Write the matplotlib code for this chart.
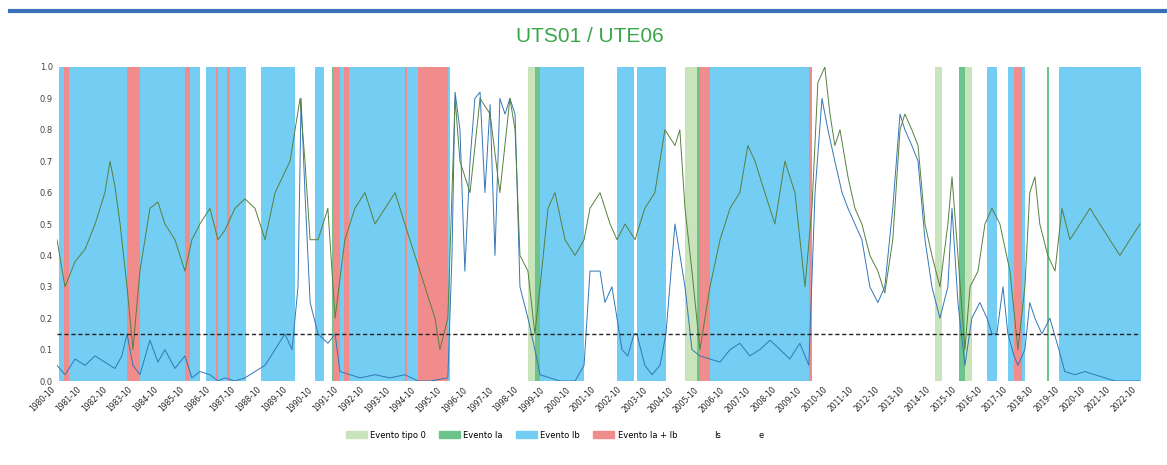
import numpy as np
import matplotlib.pyplot as plt
from matplotlib.patches import Patch
from matplotlib.lines import Line2D

# event spans (decimal years)
tipo0 = [(1999.04, 1999.31), (2005.14, 2005.60), (2014.85, 2015.12), (2016.01, 2016.28)]
tipoIa = [(1991.43, 1991.47), (1999.31, 1999.51), (2005.60, 2005.72), (2015.78, 2016.01), (2019.20, 2019.27)]
tipoIb = [(1980.83, 1986.30), (1986.54, 1988.09), (1988.67, 1989.99), (1990.77, 1991.12),
          (1991.47, 1996.01), (1999.51, 2001.22), (2002.50, 2003.16), (2003.27, 2004.40),
          (2005.72, 2010.07), (2016.87, 2017.25), (2017.68, 2018.34), (2019.66, 2022.85)]
tipoIaIb = [(1981.02, 1981.22), (1983.47, 1983.97), (1985.72, 1985.92), (1986.92, 1987.00),
            (1987.35, 1987.47), (1991.47, 1991.74), (1991.90, 1992.09), (1994.26, 1994.34),
            (1994.77, 1995.93), (2005.72, 2006.11), (2009.95, 2010.07), (2017.92, 2018.23)]

# series "Is" (green)
t_is = [1980.75, 1981.06, 1981.45, 1981.84, 1982.23, 1982.61, 1982.81, 1983.00, 1983.20, 1983.47,
        1983.70, 1983.97, 1984.36, 1984.67, 1984.94, 1985.33, 1985.72, 1985.99, 1986.30, 1986.69,
        1987.00, 1987.27, 1987.66, 1988.05, 1988.44, 1988.83, 1989.22, 1989.80, 1990.19, 1990.38,
        1990.58, 1990.89, 1991.27, 1991.55, 1991.93, 1992.32, 1992.71, 1993.10, 1993.49, 1993.88,
        1994.26, 1994.65, 1995.04, 1995.43, 1995.62, 1995.93, 1996.21, 1996.40, 1996.79, 1997.18,
        1997.57, 1997.95, 1998.34, 1998.54, 1998.73, 1999.04, 1999.31, 1999.51, 1999.82, 2000.09,
        2000.48, 2000.87, 2001.22, 2001.45, 2001.84, 2002.23, 2002.50, 2002.81, 2003.20, 2003.58,
        2003.97, 2004.36, 2004.75, 2004.94, 2005.14, 2005.41, 2005.72, 2006.11, 2006.50, 2006.89,
        2007.27, 2007.58, 2007.86, 2008.24, 2008.63, 2009.02, 2009.41, 2009.80, 2010.07, 2010.30,
        2010.57, 2010.77, 2010.96, 2011.16, 2011.47, 2011.74, 2012.01, 2012.32, 2012.63, 2012.90,
        2013.21, 2013.49, 2013.68, 2013.95, 2014.19, 2014.46, 2014.73, 2015.04, 2015.35, 2015.51,
        2015.74, 2016.01, 2016.21, 2016.52, 2016.79, 2017.06, 2017.37, 2017.76, 2018.07, 2018.34,
        2018.53, 2018.73, 2018.92, 2019.23, 2019.51, 2019.78, 2020.09, 2020.48, 2020.87, 2021.25,
        2021.64, 2022.03, 2022.42, 2022.81]
v_is = [0.45, 0.30, 0.38, 0.42, 0.50, 0.60, 0.70, 0.62, 0.50, 0.30,
        0.10, 0.35, 0.55, 0.57, 0.50, 0.45, 0.35, 0.45, 0.50, 0.55,
        0.45, 0.48, 0.55, 0.58, 0.55, 0.45, 0.60, 0.70, 0.90, 0.70,
        0.45, 0.45, 0.55, 0.20, 0.45, 0.55, 0.60, 0.50, 0.55, 0.60,
        0.50, 0.40, 0.30, 0.20, 0.10, 0.20, 0.90, 0.70, 0.60, 0.90,
        0.85, 0.60, 0.90, 0.80, 0.40, 0.35, 0.15, 0.30, 0.55, 0.60,
        0.45, 0.40, 0.45, 0.55, 0.60, 0.50, 0.45, 0.50, 0.45, 0.55,
        0.60, 0.80, 0.75, 0.80, 0.55, 0.35, 0.10, 0.30, 0.45, 0.55,
        0.60, 0.75, 0.70, 0.60, 0.50, 0.70, 0.60, 0.30, 0.55, 0.95,
        1.00, 0.85, 0.75, 0.80, 0.65, 0.55, 0.50, 0.40, 0.35, 0.28,
        0.45, 0.80, 0.85, 0.80, 0.75, 0.50, 0.40, 0.30, 0.50, 0.65,
        0.40, 0.10, 0.30, 0.35, 0.50, 0.55, 0.50, 0.35, 0.10, 0.30,
        0.60, 0.65, 0.50, 0.40, 0.35, 0.55, 0.45, 0.50, 0.55, 0.50,
        0.45, 0.40, 0.45, 0.50]

# series "e" (blue)
t_e = [1980.75, 1981.06, 1981.45, 1981.84, 1982.23, 1982.61, 1983.00, 1983.27, 1983.47, 1983.70,
       1983.97, 1984.36, 1984.67, 1984.94, 1985.33, 1985.72, 1985.99, 1986.30, 1986.69, 1987.00,
       1987.27, 1987.66, 1988.05, 1988.44, 1988.83, 1989.22, 1989.60, 1989.88, 1990.11, 1990.23,
       1990.38, 1990.58, 1990.89, 1991.27, 1991.55, 1991.74, 1992.13, 1992.52, 1993.10, 1993.68,
       1994.26, 1994.77, 1995.24, 1995.93, 1996.09, 1996.21, 1996.40, 1996.59, 1996.79, 1996.98,
       1997.18, 1997.37, 1997.57, 1997.76, 1997.95, 1998.15, 1998.34, 1998.54, 1998.73, 1999.04,
       1999.31, 1999.51, 1999.90, 2000.28, 2000.87, 2001.22, 2001.45, 2001.84, 2002.03, 2002.30,
       2002.50, 2002.69, 2002.92, 2003.16, 2003.27, 2003.58, 2003.86, 2004.17, 2004.40, 2004.75,
       2005.14, 2005.41, 2005.72, 2006.11, 2006.50, 2006.89, 2007.27, 2007.66, 2008.05, 2008.44,
       2008.83, 2009.21, 2009.60, 2009.95, 2010.19, 2010.46, 2010.69, 2010.96, 2011.24, 2011.47,
       2011.74, 2012.01, 2012.32, 2012.63, 2012.90, 2013.21, 2013.49, 2013.68, 2013.95, 2014.19,
       2014.46, 2014.73, 2015.04, 2015.35, 2015.51, 2015.74, 2016.01, 2016.28, 2016.59, 2016.87,
       2017.06, 2017.25, 2017.49, 2017.68, 2017.92, 2018.07, 2018.34, 2018.53, 2018.73, 2019.00,
       2019.31, 2019.66, 2019.89, 2020.28, 2020.67, 2021.06, 2021.45, 2021.84, 2022.22, 2022.81]
v_e = [0.05, 0.02, 0.07, 0.05, 0.08, 0.06, 0.04, 0.08, 0.15, 0.05,
       0.02, 0.13, 0.06, 0.10, 0.04, 0.08, 0.01, 0.03, 0.02, 0.00,
       0.01, 0.00, 0.01, 0.03, 0.05, 0.10, 0.15, 0.10, 0.30, 0.90,
       0.60, 0.25, 0.15, 0.12, 0.15, 0.03, 0.02, 0.01, 0.02, 0.01,
       0.02, 0.00, 0.00, 0.01, 0.40, 0.92, 0.80, 0.35, 0.70, 0.90,
       0.92, 0.60, 0.88, 0.40, 0.90, 0.85, 0.90, 0.85, 0.30, 0.20,
       0.10, 0.02, 0.01, 0.00, 0.00, 0.05, 0.35, 0.35, 0.25, 0.30,
       0.20, 0.10, 0.08, 0.15, 0.15, 0.05, 0.02, 0.05, 0.15, 0.50,
       0.30, 0.10, 0.08, 0.07, 0.06, 0.10, 0.12, 0.08, 0.10, 0.13,
       0.10, 0.07, 0.12, 0.05, 0.60, 0.90, 0.80, 0.70, 0.60, 0.55,
       0.50, 0.45, 0.30, 0.25, 0.30, 0.55, 0.85, 0.80, 0.75, 0.70,
       0.45, 0.30, 0.20, 0.30, 0.55, 0.25, 0.05, 0.20, 0.25, 0.20,
       0.15, 0.15, 0.30, 0.15, 0.08, 0.05, 0.10, 0.25, 0.20, 0.15,
       0.20, 0.10, 0.03, 0.02, 0.03, 0.02, 0.01, 0.00, 0.00, 0.00]

threshold = 0.15
legend_labels = ["Evento tipo 0", "Evento Ia", "Evento Ib", "Evento Ia + Ib", "Is", "e"]

c0, cIa, cIb, cIaIb = "#c9e3bb", "#6cc38c", "#74cdf2", "#f08c8c"
c_is, c_e = "#56803f", "#3276b8"

fig = plt.figure(figsize=(11.67, 4.65), dpi=100)
ax = fig.add_axes([57/1167, 1-381/465, (1141-57)/1167, (381-67)/465])

for spans, col in [(tipoIb, cIb), (tipo0, c0), (tipoIa, cIa), (tipoIaIb, cIaIb)]:
    for a, b in spans:
        ax.axvspan(a, b, color=col, lw=0)

ax.plot(t_e, v_e, color=c_e, lw=0.7)
ax.plot(t_is, v_is, color=c_is, lw=0.7)
ax.axhline(threshold, color="#222222", ls=(0, (3, 2)), lw=1)

ax.set_xlim(1980.75, 2022.85)
ax.set_ylim(0, 1.0)
ax.set_yticks(np.arange(0, 1.01, 0.1))
ax.set_yticklabels([f"{v:.1f}" for v in np.arange(0, 1.01, 0.1)], fontsize=6, color="#444444")
xt = np.arange(1980.75, 2022.8, 1.0)
ax.set_xticks(xt)
ax.set_xticklabels([f"{int(x)}-{int(round((x % 1) * 12)) + 1:02d}" for x in xt],
                   rotation=45, ha="right", fontsize=5.5, color="#222222")
ax.tick_params(length=0, pad=3)
for s in ax.spines.values():
    s.set_visible(False)

fig.text(590/1167, 1-36/465, "UTS01 / UTE06", color="#3aa64a", fontsize=15,
         ha="center", va="center", family="Liberation Sans")
fig.add_artist(Line2D([10/1167, 1], [1-11/465, 1-11/465], color="#3b70b8", lw=3))

handles = [Patch(color=c0), Patch(color=cIa), Patch(color=cIb), Patch(color=cIaIb),
           Line2D([], [], color="white", lw=1), Line2D([], [], color="white", lw=1)]
fig.legend(handles, legend_labels, loc="center", bbox_to_anchor=(555/1167, 1-435/465),
           ncol=6, frameon=False, fontsize=6, handlelength=2.5, handleheight=0.8,
           columnspacing=1.6, handletextpad=0.4)

plt.savefig("out.png", dpi=100)
